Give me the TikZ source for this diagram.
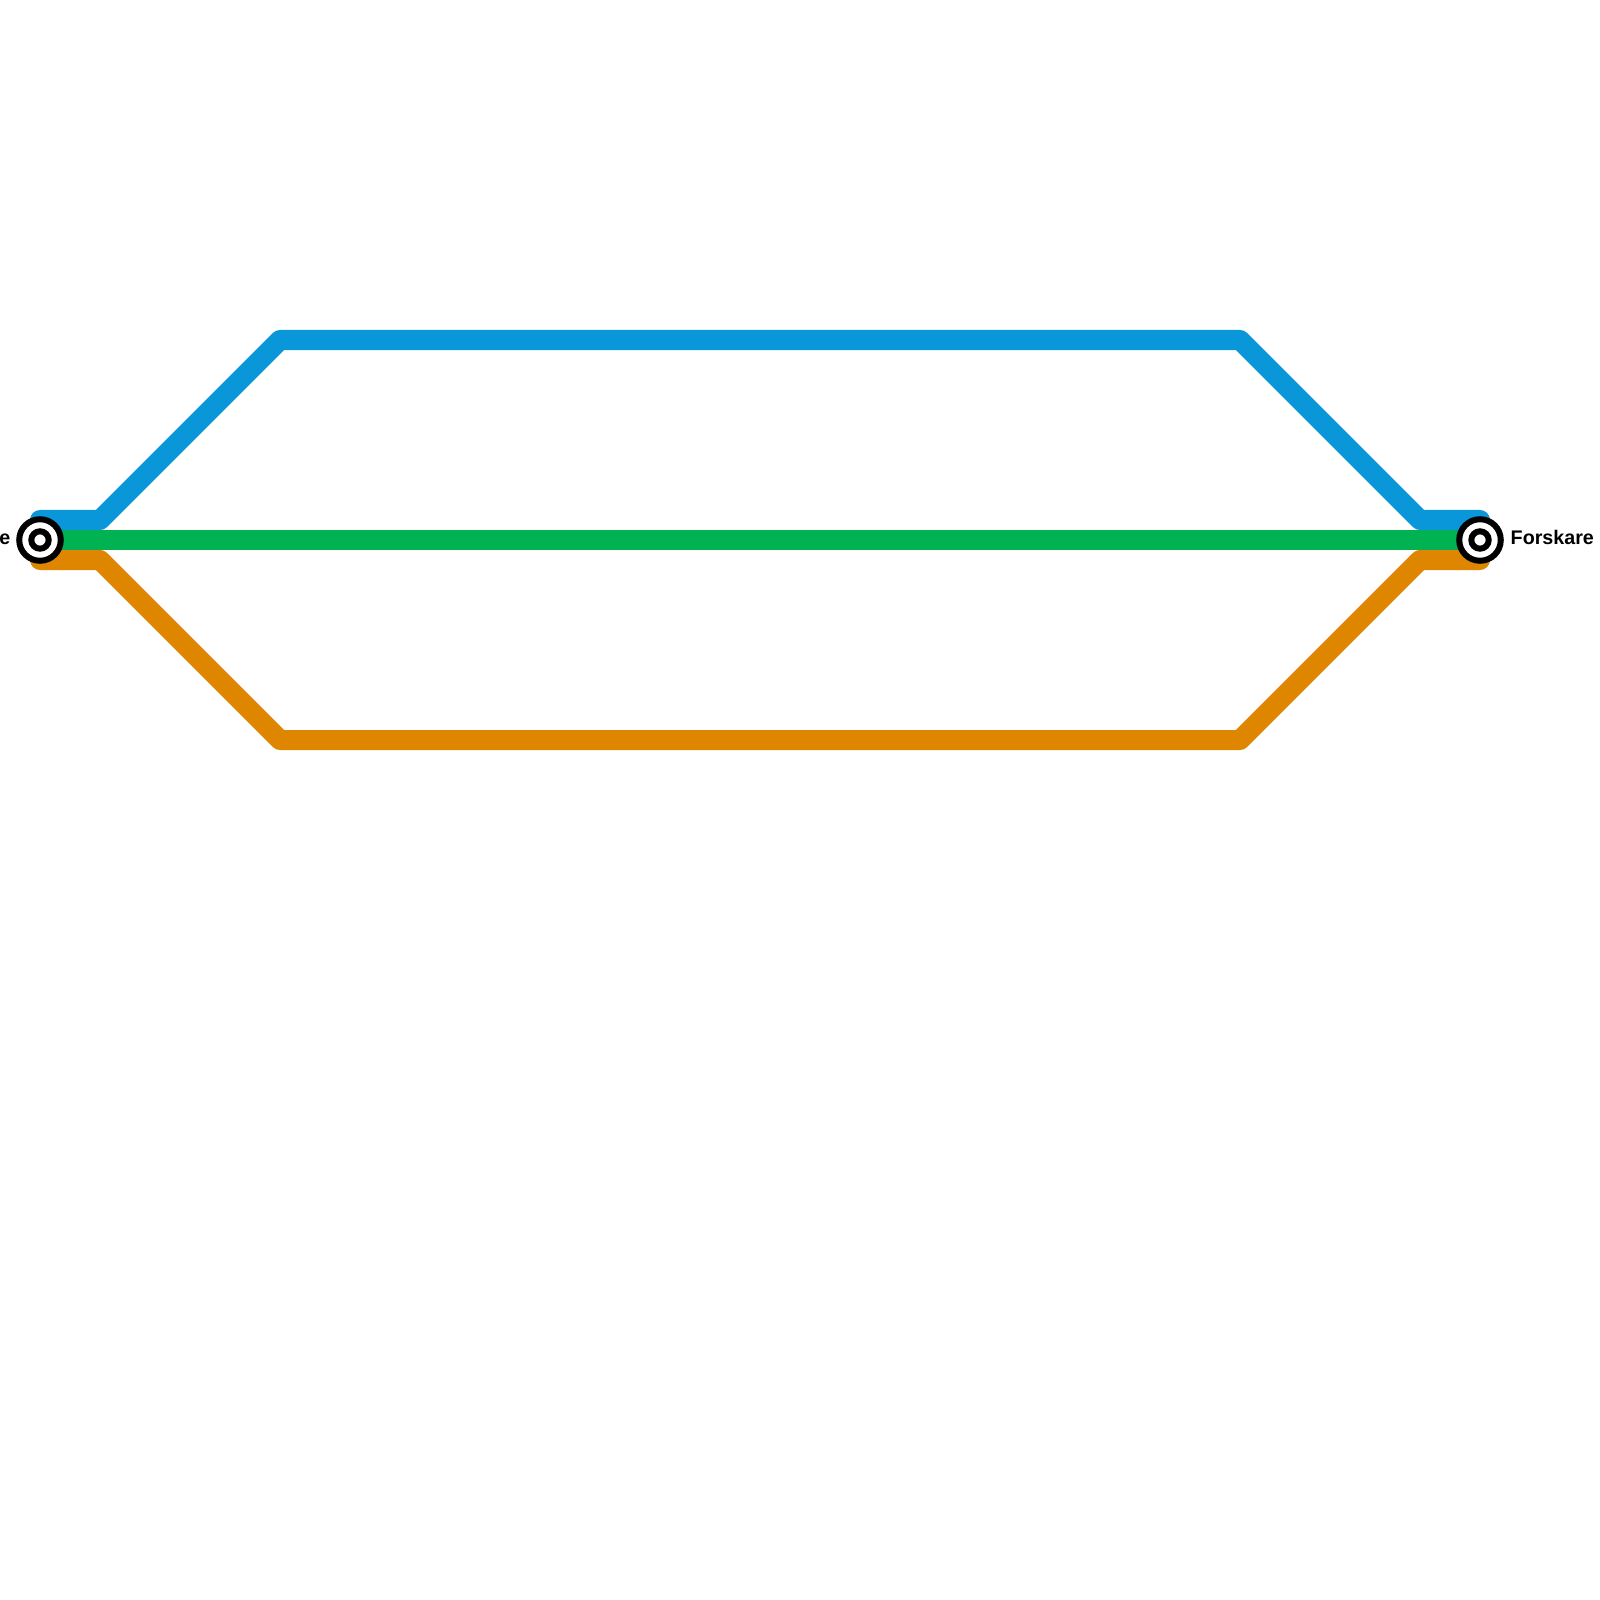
\documentclass[tikz,border=0pt]{standalone}
\usepackage{fontspec}
\setmainfont{Liberation Sans}
\usepackage{tikz}
\usetikzlibrary{positioning}
\definecolor{lineaAzul}{HTML}{0A97D9}
\definecolor{lineaVerde}{HTML}{00B251}
\definecolor{lineaNaranja}{HTML}{DF8600}

\begin{document}
\begin{tikzpicture}[x=0.01cm, y=-0.01cm, font=\bfseries\fontsize{5.6pt}{6pt}\selectfont,
        ruta/.style={line width=0.2cm, line cap=round, line join=round},
        anillo/.style={circle, draw=black, fill=white, line width=0.06cm, inner sep=0pt, minimum size=0.415cm},
        centro/.style={circle, draw=black, fill=white, line width=0.06cm, inner sep=0pt, minimum size=0.174cm},
        etiqueta/.style={inner sep=0pt, text=black}]
        \useasboundingbox (0,0) rectangle (1600,1600);
        \coordinate (a1) at (40,520);
        \coordinate (a2) at (100,520);
        \coordinate (a3) at (280,340);
        \coordinate (a4) at (1240,340);
        \coordinate (a5) at (1420,520);
        \coordinate (a6) at (1480,520);
        \coordinate (n1) at (40,560);
        \coordinate (n2) at (100,560);
        \coordinate (n3) at (280,740);
        \coordinate (n4) at (1240,740);
        \coordinate (n5) at (1420,560);
        \coordinate (n6) at (1480,560);
        \coordinate (vi) at (40,540);
        \coordinate (vd) at (1480,540);
        \draw[ruta, lineaAzul] (a1) -- (a2) -- (a3) -- (a4) -- (a5) -- (a6);
        \draw[ruta, lineaNaranja] (n1) -- (n2) -- (n3) -- (n4) -- (n5) -- (n6);
        \draw[ruta, lineaVerde] (vi) -- (vd);
        \foreach \n in {vi,vd} {
            \node[anillo] (r\n) at (\n) {};
            \node[centro] (c\n) at (\n) {};
        }
        \node[etiqueta, anchor=base east] (ei) at (11,544) {e};
        \node[etiqueta, anchor=base west] (ed) at (1510,544) {Forskare};
    \end{tikzpicture}
\end{document}
